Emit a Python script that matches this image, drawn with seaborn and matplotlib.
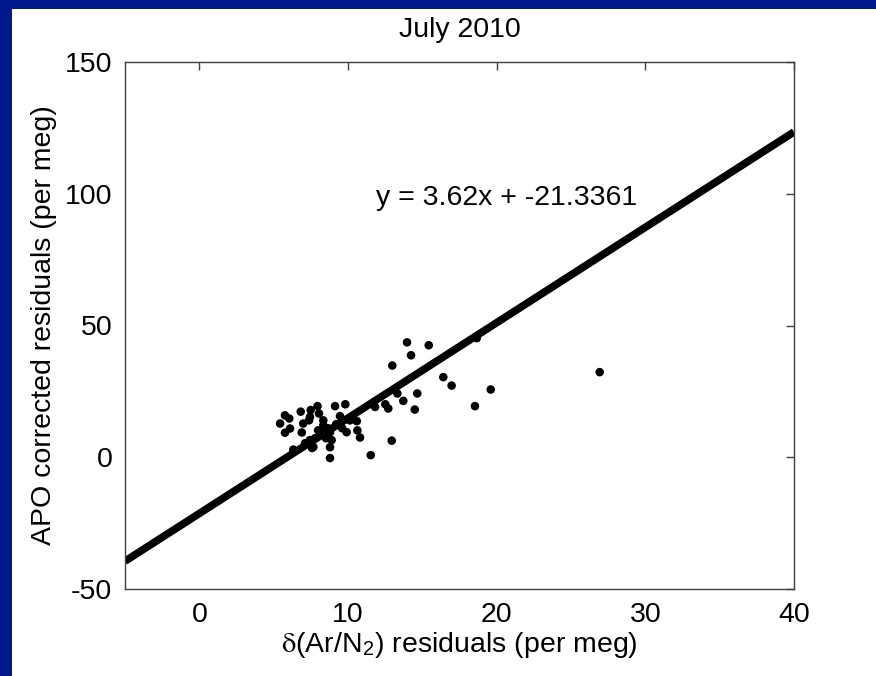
import matplotlib
matplotlib.use("Agg")
import matplotlib.pyplot as plt
from matplotlib.patches import Rectangle
import numpy as np
import pandas as pd
import seaborn as sns

# Residual pairs for July 2010
ar_n2 = [13.97, 15.43, 14.24, 12.98, 16.41, 16.97, 26.93, 18.66, 19.60, 18.54,
         13.32, 14.66, 13.72, 14.49, 12.51, 12.71, 11.82, 12.94, 11.53, 10.59,
         10.63, 10.81, 9.82, 9.13, 9.46, 9.91, 8.90, 8.79, 8.79, 7.58,
         6.32, 5.76, 6.05, 5.43, 6.10, 5.76, 6.82, 7.49, 7.95, 7.44,
         7.38, 8.05, 8.34, 6.99, 6.89, 8.34, 7.44, 7.67, 7.78, 8.25,
         8.66, 9.20, 9.61, 10.13, 7.11, 7.99, 8.79, 8.52]
apo = [43.6, 42.5, 38.7, 34.8, 30.4, 27.2, 32.3, 45.2, 25.7, 19.4,
       24.2, 24.2, 21.4, 18.1, 20.1, 18.5, 19.1, 6.3, 0.8, 13.7,
       10.2, 7.5, 20.1, 19.4, 15.6, 9.5, 6.5, 3.8, -0.3, 3.5,
       2.9, 15.9, 14.7, 12.8, 10.9, 9.3, 17.3, 17.9, 19.4, 15.3,
       14.0, 16.6, 14.0, 12.8, 9.4, 12.1, 6.5, 3.9, 7.2, 9.1,
       11.0, 12.5, 11.0, 14.0, 5.3, 10.2, 9.5, 7.2]

# Least-squares fit reported on the chart
slope = 3.62
intercept = -21.3361
fit_x = [-5, 40]

x_ticks = [0, 10, 20, 30, 40]
y_ticks = [-50, 0, 50, 100, 150]

sns.set_style("white")
plt.rcParams["font.family"] = ["Liberation Sans", "DejaVu Sans"]
plt.rcParams["mathtext.fontset"] = "stix"
plt.rcParams["axes.unicode_minus"] = False
plt.rcParams["text.color"] = "black"
plt.rcParams["axes.labelcolor"] = "black"
plt.rcParams["xtick.color"] = "black"
plt.rcParams["ytick.color"] = "black"

fig = plt.figure(figsize=(8.76, 6.76), dpi=100)
fig.patch.set_facecolor("#001a8e")
fig.add_artist(Rectangle((12 / 876, 0), 1, 1 - 9 / 676, transform=fig.transFigure,
                         facecolor="white", edgecolor="none", zorder=-1))

ax = fig.add_axes([125 / 876, 87 / 676, 669 / 876, 527 / 676])
ax.set_facecolor("white")

pts = pd.DataFrame({"x": ar_n2, "y": apo})
fit = pd.DataFrame({"x": fit_x, "y": [slope * v + intercept for v in fit_x]})

sns.lineplot(data=fit, x="x", y="y", ax=ax, color="black", linewidth=5.5,
             solid_capstyle="butt", zorder=2)
sns.scatterplot(data=pts, x="x", y="y", ax=ax, color="black", s=38,
                edgecolor="none", zorder=3)

ax.set_xlim(-5, 40)
ax.set_ylim(-50, 150)
ax.set_xticks(x_ticks)
ax.set_yticks(y_ticks)

fs = 20.5
ax.tick_params(axis="both", direction="in", length=6, width=1,
               labelsize=fs, top=True, right=True, pad=9)
ax.tick_params(axis="both", color="#404040")
for s in ax.spines.values():
    s.set_visible(True)
    s.set_color("#404040")
    s.set_linewidth(1)

ax.set_xlabel(r"$\mathrm{\delta}$(Ar/N$_{\mathregular{2}}$) residuals (per meg)",
              fontsize=fs, labelpad=2)
ax.set_ylabel("APO corrected residuals (per meg)", fontsize=fs, labelpad=6)
ax.set_title("July 2010", fontsize=fs, pad=18)

ax.text(11.9, 98.3, f"y = {slope}x + {intercept}", fontsize=fs, va="center", ha="left")

fig.savefig("out.png", dpi=100, facecolor=fig.get_facecolor())
